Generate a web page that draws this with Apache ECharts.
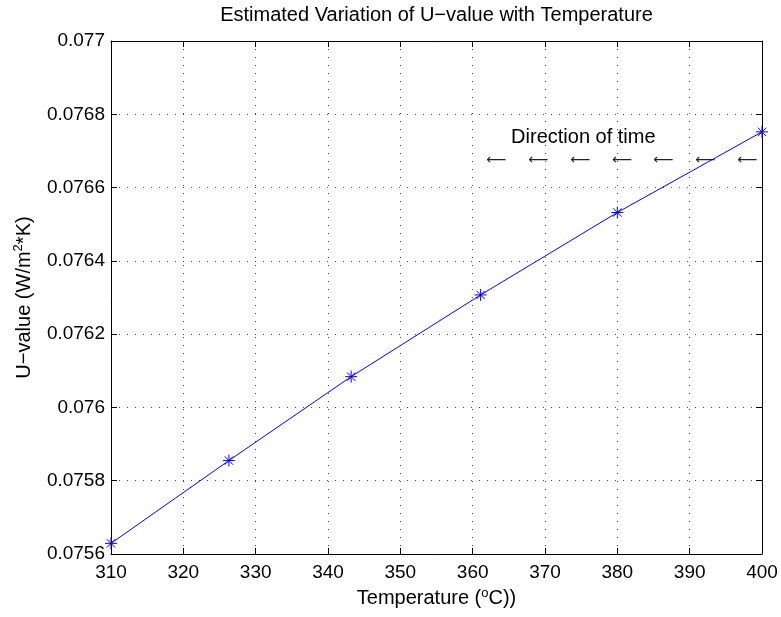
<!DOCTYPE html>
<html>
<head>
<meta charset="utf-8">
<script src="https://cdn.jsdelivr.net/npm/echarts@6/dist/echarts.min.js"></script>
<style>html,body{margin:0;padding:0;background:#fff}#c{width:781px;height:617px}</style>
</head>
<body>
<div id="c"></div>
<script>
const temperature = [310, 326.3, 343.2, 361.1, 380, 400];
const uValue = [0.075629, 0.075855, 0.076084, 0.076307, 0.076532, 0.076752];
const arrowX = [363.3, 369.1, 374.9, 380.7, 386.4, 392.2, 398.0];
const arrowY = 0.076675;
const noteX = 375.3, noteY = 0.076738;
const noteText = 'Direction of time';
const titleText = 'Estimated Variation of U\u2212value with Temperature';

const FONT = '"Liberation Sans", Arial, Helvetica, sans-serif';
const FS = 19;
const FN = 20;
const chart = echarts.init(document.getElementById('c'), null, {renderer: 'canvas'});
const gridDotted = {show: true, lineStyle: {color: '#444', width: 1, type: [1, 7]}};
const star = 'path://M0,5L10,5M5,0L5,10M1.5,1.5L8.5,8.5M1.5,8.5L8.5,1.5';
const supStyle = {fontSize: 13, fontFamily: FONT, color: '#000', verticalAlign: 'top', lineHeight: 24, padding: [0, 0, 10, 0]};

chart.setOption({
  animation: false,
  backgroundColor: '#fff',
  textStyle: {fontFamily: FONT},
  grid: {left: 111, right: 19, top: 41, bottom: 63, containLabel: false},
  xAxis: [{
    type: 'value', min: 310, max: 400, interval: 10,
    position: 'bottom',
    axisLine: {show: true, onZero: false, lineStyle: {color: '#000', width: 1}},
    axisTick: {show: true, inside: true, length: 6, lineStyle: {color: '#000'}},
    axisLabel: {color: '#000', fontSize: FS, fontFamily: FONT, margin: 9},
    splitLine: gridDotted,
    name: 'Temperature ({sup|o}C))',
    nameLocation: 'middle', nameGap: 26,
    nameTextStyle: {color: '#000', fontSize: FN, fontFamily: FONT, lineHeight: 24,
      rich: {sup: supStyle}}
  }, {
    type: 'value', min: 310, max: 400, interval: 10,
    position: 'top',
    axisLine: {show: true, onZero: false, lineStyle: {color: '#000', width: 1}},
    axisTick: {show: true, inside: true, length: 6, lineStyle: {color: '#000'}},
    axisLabel: {show: false},
    splitLine: {show: false},
    name: titleText,
    nameLocation: 'middle', nameGap: 16,
    nameTextStyle: {color: '#000', fontSize: FN, fontFamily: FONT}
  }],
  yAxis: [{
    type: 'value', min: 0.0756, max: 0.077, interval: 0.0002,
    position: 'left',
    axisLine: {show: true, onZero: false, lineStyle: {color: '#000', width: 1}},
    axisTick: {show: true, inside: true, length: 6, lineStyle: {color: '#000'}},
    axisLabel: {color: '#000', fontSize: FS, fontFamily: FONT, margin: 6,
      formatter: v => String(parseFloat(v.toFixed(4)))},
    splitLine: gridDotted,
    name: 'U\u2212value (W/m{sup|2}*K)',
    nameLocation: 'middle', nameGap: 74, nameRotate: 90,
    nameTextStyle: {color: '#000', fontSize: FN, fontFamily: FONT, lineHeight: 24,
      rich: {sup: supStyle}}
  }, {
    type: 'value', min: 0.0756, max: 0.077, interval: 0.0002,
    position: 'right',
    axisLine: {show: true, onZero: false, lineStyle: {color: '#000', width: 1}},
    axisTick: {show: true, inside: true, length: 6, lineStyle: {color: '#000'}},
    axisLabel: {show: false},
    splitLine: {show: false}
  }],
  series: [{
    type: 'line',
    data: temperature.map((t, i) => [t, uValue[i]]),
    lineStyle: {color: '#0000ff', width: 1},
    symbol: star, symbolSize: 12,
    itemStyle: {color: 'rgba(0,0,0,0)', borderColor: '#0000ff', borderWidth: 1},
    clip: false
  }, {
    type: 'scatter',
    data: arrowX.map(x => [x, arrowY]),
    symbolSize: 1,
    itemStyle: {color: 'rgba(0,0,0,0)', opacity: 1},
    label: {show: true, position: 'inside', formatter: '\u27F5', color: '#222', fontSize: 14, fontFamily: '"DejaVu Sans", sans-serif'}
  }, {
    type: 'scatter',
    data: [[noteX, noteY]],
    symbolSize: 1,
    itemStyle: {color: 'rgba(0,0,0,0)', opacity: 1},
    label: {show: true, position: 'inside', formatter: noteText, color: '#000', fontSize: FN, fontFamily: FONT}
  }]
});
</script>
</body>
</html>
